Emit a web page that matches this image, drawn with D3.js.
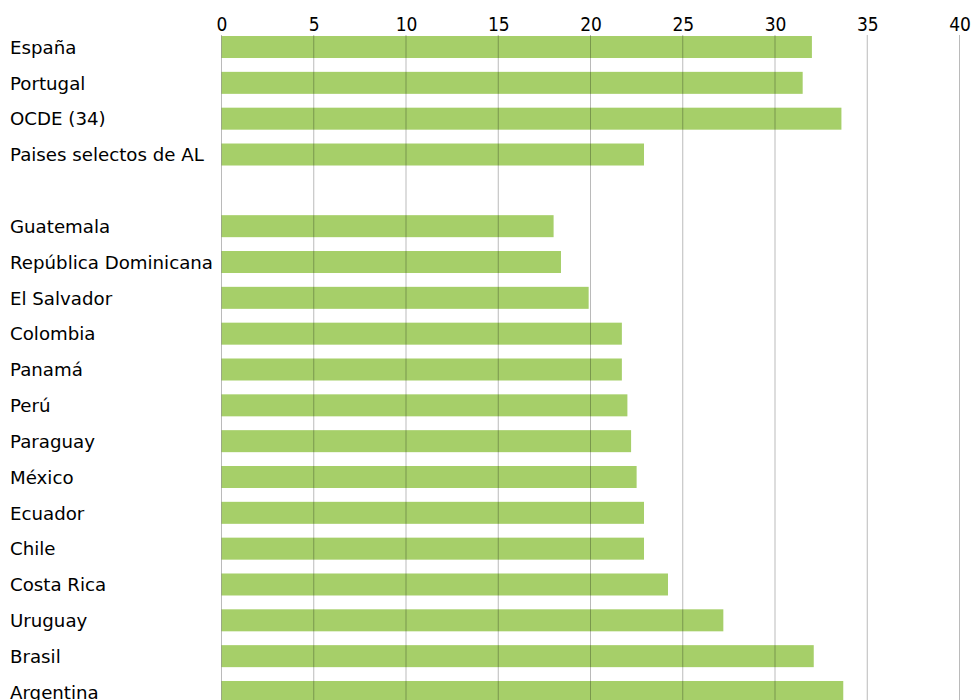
<!DOCTYPE html>
<html><head><meta charset="utf-8">
<script src="https://cdn.jsdelivr.net/npm/d3@7"></script>
<style>body{margin:0;background:#fff}</style>
</head><body><svg id="chart" width="971" height="700"></svg>
<script>
const categories = ["España","Portugal","OCDE (34)","Paises selectos de AL","",
  "Guatemala","República Dominicana","El Salvador","Colombia","Panamá","Perú",
  "Paraguay","México","Ecuador","Chile","Costa Rica","Uruguay","Brasil","Argentina"];
const values = [32.0,31.5,33.6,22.9,null,
  18.0,18.4,19.9,21.7,21.7,22.0,
  22.2,22.5,22.9,22.9,24.2,27.2,32.1,33.7];
const tickValues = [0,5,10,15,20,25,30,35,40];

const svg = d3.select("#chart");
const x = d3.scaleLinear().domain([0,40]).range([221.5,959.5]);
const y = d3.scaleBand().domain(categories.map((c,i)=>i)).range([29.1,709.9])
  .paddingInner(0.386).paddingOuter(0.193);

const data = categories.map((c,i)=>({c, v: values[i], i})).filter(d=>d.v!==null);

svg.append("g").selectAll("rect").data(data).join("rect")
  .attr("x", x(0)).attr("y", d=>y(d.i))
  .attr("width", d=>x(d.v)-x(0)).attr("height", y.bandwidth())
  .attr("fill", "#a6cf69");

const axis = d3.axisTop(x).tickValues(tickValues).tickSize(-(700-35)).tickPadding(0);
const gAxis = svg.append("g").attr("transform","translate(0,35)").call(axis);
gAxis.select(".domain").remove();
gAxis.selectAll(".tick line").attr("stroke","rgba(0,0,0,0.27)").attr("stroke-width",1)
  .attr("transform","translate(-0.5,0)");
gAxis.selectAll(".tick text").attr("fill","#000").attr("y",-4)
  .style("font-family","'DejaVu Sans Condensed'").style("font-size","19px");

svg.append("g").selectAll("text").data(data).join("text")
  .attr("x",10).attr("y",d=>y(d.i)+y.bandwidth()/2).attr("dy","0.37em")
  .style("font-family","'DejaVu Sans'").style("font-size","18.2px").attr("fill","#000")
  .text(d=>d.c);
</script></body></html>
